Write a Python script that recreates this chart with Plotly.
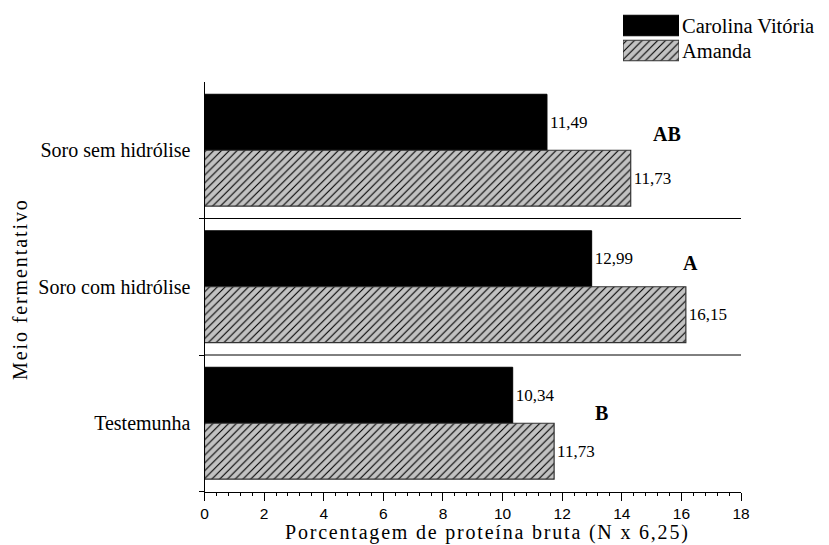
import plotly.graph_objects as go

# ---------------- data ----------------
categories = ["Soro sem hidrólise", "Soro com hidrólise", "Testemunha"]
series_names = ["Carolina Vitória", "Amanda"]
carolina_values = [11.49, 12.99, 10.34]
amanda_values = [14.3, 16.15, 11.73]
carolina_labels = ["11,49", "12,99", "10,34"]
amanda_labels = ["11,73", "16,15", "11,73"]
group_letters = ["AB", "A", "B"]
x_tick_values = [0, 2, 4, 6, 8, 10, 12, 14, 16, 18]

# ---------------- styles ----------------
SERIF = "Liberation Serif, Times New Roman, serif"
SANS = "Liberation Sans, Arial, sans-serif"
W, H = 829, 545
GRAY = "#c2c2c2"

carolina_marker = dict(color="black", line=dict(color="black", width=1))
amanda_marker = dict(color=GRAY, line=dict(color="#333333", width=1.2),
                     pattern=dict(shape="/", fgcolor="black", bgcolor=GRAY,
                                  size=5.5, solidity=0.2))

fig = go.Figure()

fig.add_trace(go.Bar(
    name=series_names[0], y=categories, x=carolina_values, orientation="h",
    marker=carolina_marker,
    text=carolina_labels, textposition="outside", constraintext="none",
    textfont=dict(family=SERIF, size=17, color="black"),
    cliponaxis=False, showlegend=False, xaxis="x", yaxis="y",
))
fig.add_trace(go.Bar(
    name=series_names[1], y=categories, x=amanda_values, orientation="h",
    marker=amanda_marker,
    text=amanda_labels, textposition="outside", constraintext="none",
    textfont=dict(family=SERIF, size=17, color="black"),
    cliponaxis=False, showlegend=False, xaxis="x", yaxis="y",
))

# legend drawn as a small bar subplot keyed by series names
for name, mk in zip(series_names, [carolina_marker, amanda_marker]):
    fig.add_trace(go.Bar(
        y=[name], x=[1], orientation="h", marker=mk, offsetgroup="legend",
        showlegend=False, hoverinfo="skip", xaxis="x2", yaxis="y2",
    ))

px = lambda p: p / W
py = lambda p: 1 - p / H

# separators between categories
shapes = []
for i in range(len(categories) - 1):
    shapes.append(dict(type="line", xref="x", yref="y",
                       x0=x_tick_values[0], x1=x_tick_values[-1], y0=i + 0.5, y1=i + 0.5,
                       line=dict(color="black", width=1)))

# group letters
letter_pos = [(15.53, -0.12), (16.30, 0.824), (13.32, 1.927)]
annotations = []
for txt, (lx, ly) in zip(group_letters, letter_pos):
    annotations.append(dict(text="<b>%s</b>" % txt, x=lx, y=ly, xref="x", yref="y",
                            showarrow=False, xanchor="center", yanchor="middle",
                            font=dict(family=SERIF, size=20, color="black")))

annotations.append(dict(
    text='<span style="letter-spacing:1.8px">Porcentagem de proteína bruta (N x 6,25)</span>',
    x=px(487), y=py(532), xref="paper", yref="paper", showarrow=False,
    xanchor="center", yanchor="middle",
    font=dict(family=SERIF, size=20, color="black")))
annotations.append(dict(
    text='<span style="letter-spacing:1.9px">Meio fermentativo</span>',
    x=px(20), y=py(289), xref="paper", yref="paper", showarrow=False, textangle=-90,
    xanchor="center", yanchor="middle",
    font=dict(family=SERIF, size=20, color="black")))

n = len(categories)
fig.update_layout(
    template="none",
    width=W, height=H,
    margin=dict(l=0, r=0, t=0, b=0, pad=0),
    paper_bgcolor="white", plot_bgcolor="rgba(0,0,0,0)",
    barmode="group", bargap=0.18, bargroupgap=0,
    showlegend=False,
    shapes=shapes, annotations=annotations,
    xaxis=dict(
        domain=[px(204.5), px(741)], range=[0, 18], automargin=False,
        tickmode="array", tickvals=x_tick_values,
        ticks="outside", ticklen=8, tickwidth=1, tickcolor="black",
        minor=dict(dtick=0.4, tick0=0, ticks="outside", ticklen=3.5, tickwidth=1,
                   tickcolor="black", showgrid=False),
        showline=True, linecolor="black", linewidth=1,
        showgrid=False, zeroline=False,
        tickfont=dict(family=SANS, size=15.5, color="black"),
        anchor="y",
    ),
    yaxis=dict(
        domain=[py(491.5), py(82)], automargin=False,
        type="category", autorange="reversed",
        ticks="", ticklabelstandoff=9,
        showline=True, linecolor="black", linewidth=1,
        showgrid=False, zeroline=False,
        tickfont=dict(family=SERIF, size=20, color="black"),
        anchor="x",
    ),
    # boundary ticks on the category axis (below each category)
    yaxis3=dict(
        overlaying="y", anchor="x", side="left", range=[n - 0.5, -0.5],
        tickmode="array", tickvals=[i + 0.5 for i in range(n)],
        ticks="outside", ticklen=5, tickwidth=1, tickcolor="black",
        showticklabels=False, showline=False, showgrid=False, zeroline=False,
        automargin=False,
    ),
    xaxis2=dict(domain=[px(623), px(679)], range=[0, 1], visible=False,
                anchor="y2", automargin=False),
    yaxis2=dict(domain=[py(63), py(13)], type="category", autorange="reversed",
                anchor="x2", side="right", automargin=False,
                showline=False, showgrid=False, zeroline=False, ticks="", ticklen=0,
                ticklabelstandoff=2,
                tickfont=dict(family=SERIF, size=20.5, color="black")),
)

# yaxis3 needs a trace to be drawn
fig.add_trace(go.Scatter(x=[None], y=[None], xaxis="x", yaxis="y3",
                         showlegend=False, hoverinfo="skip"))

fig.write_html("out.html", config={"displayModeBar": False},
               post_script="document.body.style.margin='0px';")
